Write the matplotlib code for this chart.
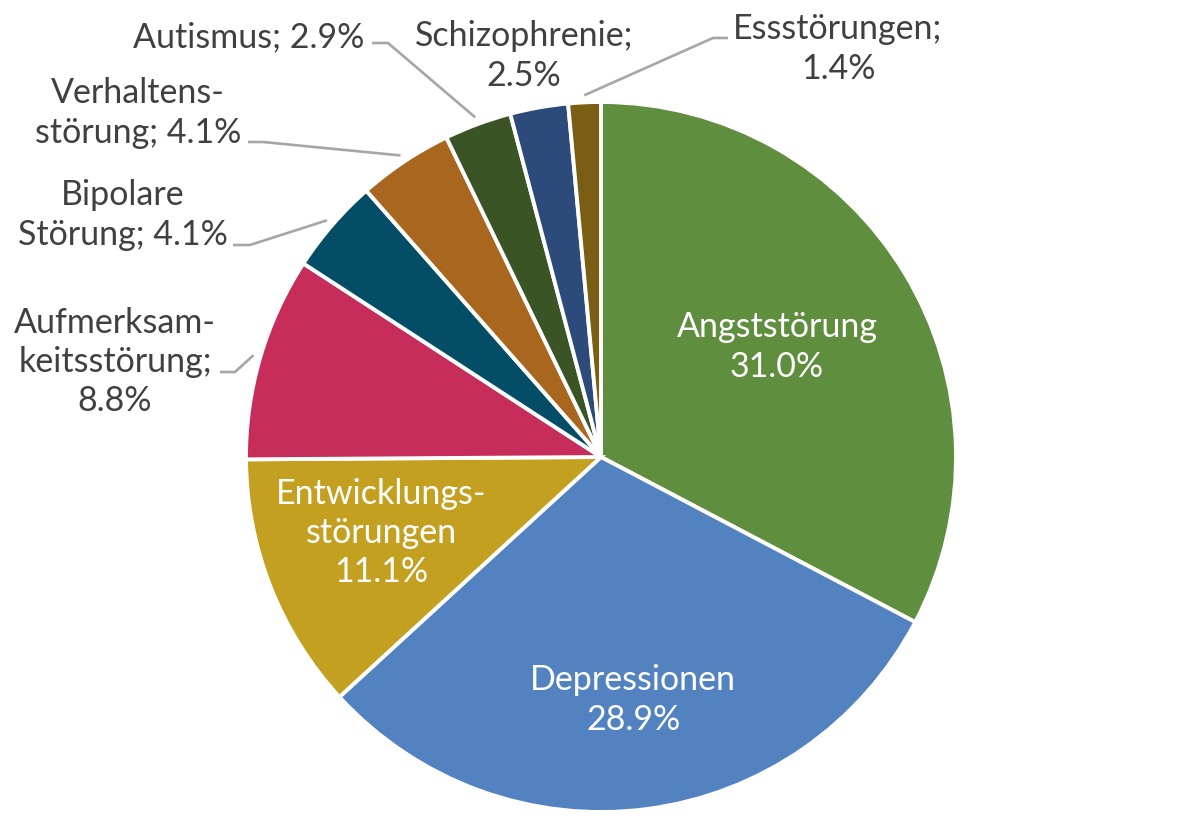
import matplotlib.pyplot as plt
import numpy as np

# Daten
kategorien = ["Angststörung", "Depressionen", "Entwicklungsstörungen",
              "Aufmerksamkeitsstörung", "Bipolare Störung", "Verhaltensstörung",
              "Autismus", "Schizophrenie", "Essstörungen"]
anteile = [31.0, 28.9, 11.1, 8.8, 4.1, 4.1, 2.9, 2.5, 1.4]
beschriftungen = ["Angststörung\n31.0%", "Depressionen\n28.9%",
                  "Entwicklungs-\nstörungen\n11.1%", "Aufmerksam-\nkeitsstörung;\n8.8%",
                  "Bipolare\nStörung; 4.1%", "Verhaltens-\nstörung; 4.1%",
                  "Autismus; 2.9%", "Schizophrenie;\n2.5%", "Essstörungen;\n1.4%"]
farben = ["#5E8E3E", "#5282BF", "#C4A021", "#C72D5A", "#034E66",
          "#A8661F", "#3A5426", "#2C4B7A", "#7A5E14"]

W, H = 1200, 836
cx, cy, r = 601, 457, 355

# Textpositionen in Pixeln (Mitte der Beschriftung)
text_pos = [(777, 347), (633, 700), (381, 533), (115, 362), (123, 215),
            (138, 113), (249, 37), (524, 56), (838, 49)]
innen = [True, True, True, False, False, False, False, False, False]
# Führungslinien: Anfang am Text und Knickpunkt (None = keine Linie)
linie_start = [None, None, None, (220, 372), (233, 245), (248, 142),
               (372, 43), None, (728, 38)]
knick = [None, None, None, (235, 372), (250, 245), (263, 142),
         (388, 43), None, (713, 38)]


def px2d(p):
    return ((p[0] - cx) / r, (cy - p[1]) / r)


plt.rcParams['font.family'] = ['Lato', 'DejaVu Sans']
fig = plt.figure(figsize=(W / 100, H / 100), dpi=100)
ax = fig.add_axes([(cx - r) / W, (H - cy - r) / H, 2 * r / W, 2 * r / H])

wedges, _ = ax.pie(anteile, colors=farben, startangle=90, counterclock=False,
                   radius=1.0,
                   wedgeprops=dict(edgecolor="white", linewidth=2.8))
ax.set_xlim(-1, 1)
ax.set_ylim(-1, 1)
ax.set_aspect("equal")
ax.axis("off")

for i, w in enumerate(wedges):
    x, y = px2d(text_pos[i])
    farbe = "white" if innen[i] else "#404040"
    ax.text(x, y, beschriftungen[i], ha="center", va="center",
            color=farbe, fontsize=24.5, linespacing=1.28)
    if knick[i] is not None:
        mitte = np.deg2rad((w.theta1 + w.theta2) / 2)
        ex, ey = 1.02 * np.cos(mitte), 1.02 * np.sin(mitte)
        sx, sy = px2d(linie_start[i])
        kx, ky = px2d(knick[i])
        ax.plot([sx, kx, ex], [sy, ky, ey], color="#A6A6A6", lw=1.9,
                solid_capstyle="butt", clip_on=False)

fig.savefig("out.png", dpi=100, facecolor="white")
